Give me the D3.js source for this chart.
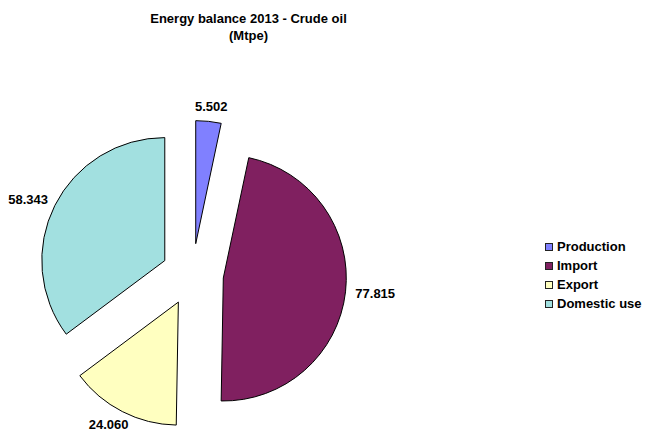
<!DOCTYPE html>
<html>
<head>
<meta charset="utf-8">
<script src="https://cdn.jsdelivr.net/npm/d3@7"></script>
<style>
  html, body { margin: 0; padding: 0; background: #fff; }
  svg { display: block; }
  text { font-family: "Liberation Sans", Arial, sans-serif; font-weight: bold; fill: #000; }
</style>
</head>
<body>
<svg id="chart" width="647" height="431"></svg>
<script>
const categories = ["Production", "Import", "Export", "Domestic use"];
const values = [5.502, 77.815, 24.060, 58.343];
const valueLabels = ["5.502", "77.815", "24.060", "58.343"];
const colors = ["#8080FF", "#802060", "#FFFFC0", "#A2E0E0"];
const titleLines = ["Energy balance 2013 - Crude oil", "(Mtpe)"];

const svg = d3.select("#chart");
const cx = 192.5, cy = 274.5, R = 123, explode = 31, labelR = 164;

// Title
svg.append("g").selectAll("text").data(titleLines).join("text")
  .attr("x", 248.5)
  .attr("y", (d, i) => 22.5 + i * 17)
  .attr("text-anchor", "middle")
  .style("font-size", "13px")
  .text(d => d);

const pie = d3.pie().sort(null).startAngle(0).endAngle(2 * Math.PI);
const arcs = pie(values);
const arc = d3.arc().innerRadius(0).outerRadius(R);
const color = d3.scaleOrdinal().domain(categories).range(colors);

const g = svg.append("g").attr("transform", `translate(${cx},${cy})`);

g.selectAll("path").data(arcs).join("path")
  .attr("d", arc)
  .attr("transform", d => {
    const a = (d.startAngle + d.endAngle) / 2;
    return `translate(${Math.sin(a) * explode},${-Math.cos(a) * explode})`;
  })
  .attr("fill", (d, i) => color(categories[i]))
  .attr("stroke", "#000")
  .attr("stroke-width", 1)
  .attr("stroke-linejoin", "miter");

// Value labels placed outside the slice ends
const lbl = g.selectAll("text.val").data(arcs).join("text")
  .attr("class", "val")
  .style("font-size", "13px")
  .attr("text-anchor", "middle")
  .text((d, i) => valueLabels[i]);

lbl.each(function(d) {
  const a = (d.startAngle + d.endAngle) / 2;
  const w = this.getComputedTextLength();
  const h = 9.3;
  const s = Math.sin(a), c = -Math.cos(a);
  const x = s * labelR + s * w / 2;
  const y = c * labelR + c * h / 2;
  d3.select(this).attr("x", x).attr("y", y + h / 2);
});

// Legend
const leg = svg.append("g").attr("transform", "translate(545,243)");
const items = leg.selectAll("g").data(categories).join("g")
  .attr("transform", (d, i) => `translate(0,${i * 19})`);
items.append("rect")
  .attr("x", 0.5).attr("y", 0.5)
  .attr("width", 7).attr("height", 7)
  .attr("fill", d => color(d))
  .attr("stroke", "#222")
  .attr("stroke-width", 1);
items.append("text")
  .attr("x", 12)
  .attr("y", 8)
  .style("font-size", "13px")
  .text(d => d);
</script>
</body>
</html>
